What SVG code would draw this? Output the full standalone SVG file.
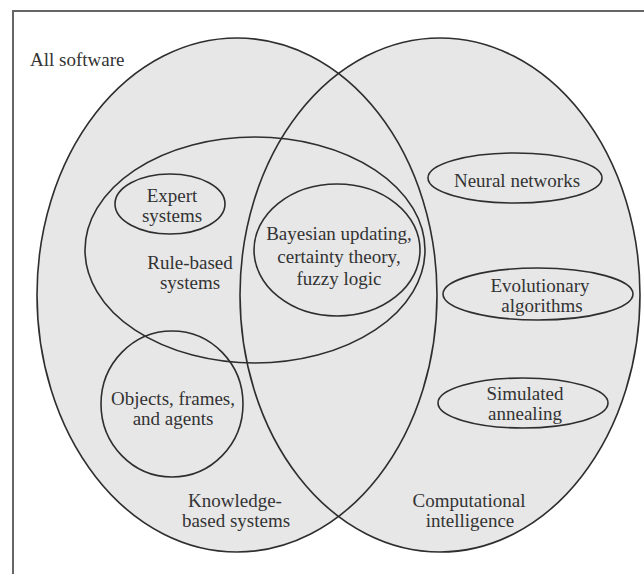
<svg xmlns="http://www.w3.org/2000/svg" width="644" height="574" viewBox="0 0 644 574">
  <style>
    .fill { fill: #e7e7e8; stroke: none; }
    .ring { fill: none; stroke: #2e2e2e; stroke-width: 1.6; }
    .lbl { font-family: "Liberation Serif", "Times New Roman", serif; font-size: 19px; fill: #333; text-anchor: middle; }
    .frame { stroke: #666; stroke-width: 2; fill: none; }
  </style>
  <rect width="644" height="574" fill="#ffffff"/>
  <path class="frame" d="M13,574 L13,11 L644,11"/>
  <text class="lbl" x="30" y="66" style="text-anchor:start">All software</text>

  <g id="backgrounds">
    <ellipse class="fill" cx="237" cy="295" rx="200" ry="257"/>
    <ellipse class="fill" cx="440" cy="295" rx="200" ry="257"/>
  </g>

  <g id="knowledge-based-systems">
    <ellipse class="ring" cx="237" cy="295" rx="200" ry="257"/>
    <text class="lbl" x="235" y="507">Knowledge-</text>
    <text class="lbl" x="236" y="527">based systems</text>
  </g>

  <g id="computational-intelligence">
    <ellipse class="ring" cx="440" cy="295" rx="200" ry="257"/>
    <text class="lbl" x="469" y="507">Computational</text>
    <text class="lbl" x="470" y="527">intelligence</text>
  </g>

  <g id="rule-based-systems">
    <ellipse class="ring" cx="255" cy="250" rx="170" ry="113"/>
    <text class="lbl" x="190" y="269">Rule-based</text>
    <text class="lbl" x="190" y="289">systems</text>
  </g>

  <g id="expert-systems">
    <ellipse class="ring" cx="170" cy="204" rx="55" ry="30"/>
    <text class="lbl" x="172" y="202">Expert</text>
    <text class="lbl" x="172" y="222">systems</text>
  </g>

  <g id="bayesian">
    <ellipse class="ring" cx="337" cy="250" rx="83" ry="66"/>
    <text class="lbl" x="339" y="240">Bayesian updating,</text>
    <text class="lbl" x="339" y="263">certainty theory,</text>
    <text class="lbl" x="339" y="285">fuzzy logic</text>
  </g>

  <g id="objects-frames-agents">
    <ellipse class="ring" cx="172" cy="404" rx="71" ry="73"/>
    <text class="lbl" x="173" y="405">Objects, frames,</text>
    <text class="lbl" x="173" y="425">and agents</text>
  </g>

  <g id="neural-networks">
    <ellipse class="ring" cx="515" cy="178" rx="87" ry="25"/>
    <text class="lbl" x="517" y="187">Neural networks</text>
  </g>

  <g id="evolutionary-algorithms">
    <ellipse class="ring" cx="538" cy="294" rx="95" ry="26"/>
    <text class="lbl" x="540" y="292">Evolutionary</text>
    <text class="lbl" x="542" y="312">algorithms</text>
  </g>

  <g id="simulated-annealing">
    <ellipse class="ring" cx="523" cy="403" rx="85" ry="25"/>
    <text class="lbl" x="525" y="400">Simulated</text>
    <text class="lbl" x="525" y="420">annealing</text>
  </g>

  <g id="connectors"/>
</svg>
